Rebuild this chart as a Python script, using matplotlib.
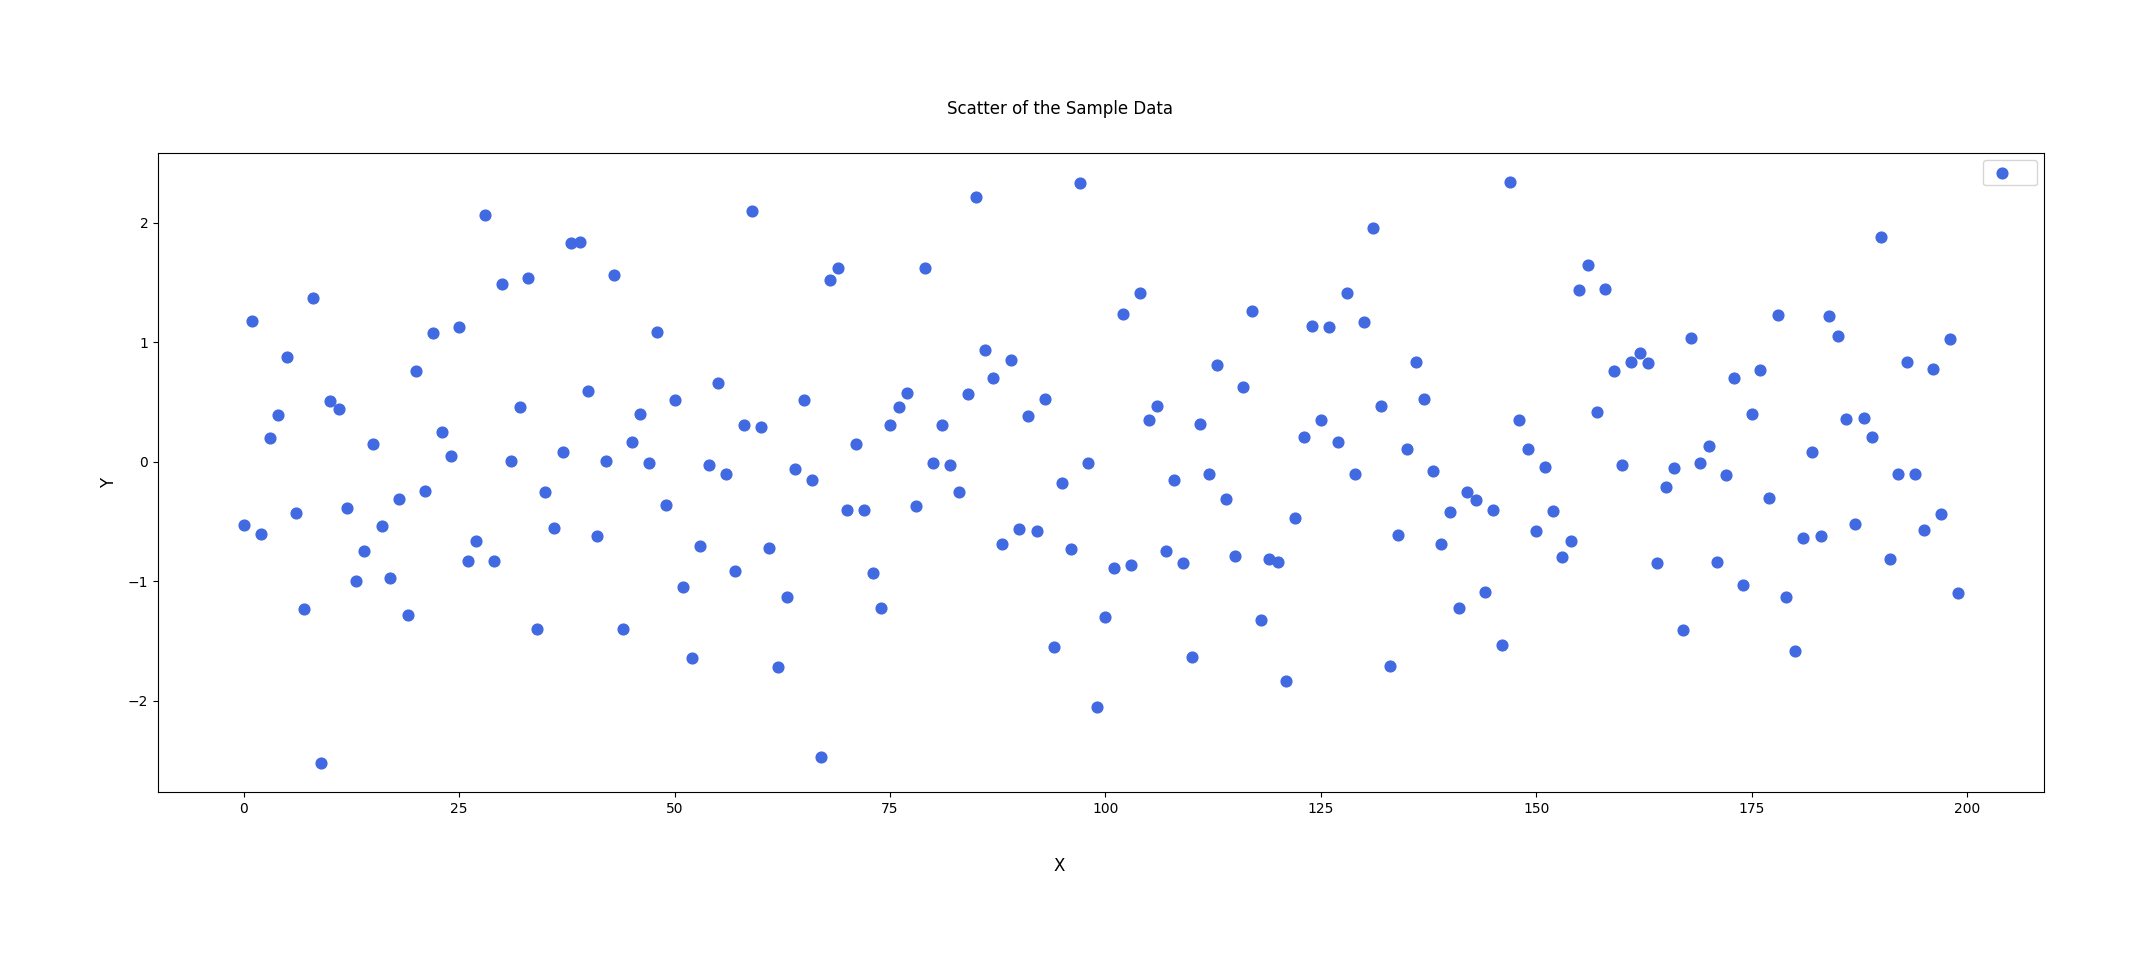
import numpy as np
import matplotlib
matplotlib.use('Agg')
import matplotlib.pyplot as plt

# Datos
x = np.arange(200)
y = [
    -0.53, 1.18, -0.60, 0.20, 0.39, 0.88, -0.43, -1.23, 1.37, -2.52,
    0.51, 0.44, -0.39, -1.00, -0.75, 0.15, -0.54, -0.97, -0.31, -1.28,
    0.76, -0.24, 1.08, 0.25, 0.05, 1.13, -0.83, -0.66, 2.07, -0.83,
    1.49, 0.01, 0.46, 1.54, -1.40, -0.25, -0.55, 0.08, 1.83, 1.84,
    0.59, -0.62, 0.01, 1.56, -1.40, 0.17, 0.40, -0.01, 1.09, -0.36,
    0.52, -1.05, -1.64, -0.70, -0.03, 0.66, -0.10, -0.91, 0.31, 2.10,
    0.29, -0.72, -1.72, -1.13, -0.06, 0.52, -0.15, -2.47, 1.52, 1.62,
    -0.40, 0.15, -0.40, -0.93, -1.22, 0.31, 0.46, 0.58, -0.37, 1.62,
    -0.01, 0.31, -0.03, -0.25, 0.57, 2.22, 0.94, 0.70, -0.69, 0.85,
    -0.56, 0.38, -0.58, 0.53, -1.55, -0.18, -0.73, 2.33, -0.01, -2.05,
    -1.30, -0.89, 1.24, -0.86, 1.41, 0.35, 0.47, -0.75, -0.15, -0.85,
    -1.63, 0.32, -0.10, 0.81, -0.31, -0.79, 0.63, 1.26, -1.32, -0.81,
    -0.84, -1.83, -0.47, 0.21, 1.14, 0.35, 1.13, 0.17, 1.41, -0.10,
    1.17, 1.96, 0.47, -1.71, -0.61, 0.11, 0.84, 0.53, -0.08, -0.69,
    -0.42, -1.22, -0.25, -0.32, -1.09, -0.40, -1.53, 2.34, 0.35, 0.11,
    -0.58, -0.04, -0.41, -0.80, -0.66, 1.44, 1.65, 0.42, 1.45, 0.76,
    -0.03, 0.84, 0.91, 0.83, -0.85, -0.21, -0.05, -1.41, 1.04, -0.01,
    0.13, -0.84, -0.11, 0.70, -1.03, 0.40, 0.77, -0.30, 1.23, -1.13,
    -1.58, -0.64, 0.08, -0.62, 1.22, 1.05, 0.36, -0.52, 0.37, 0.21,
    1.88, -0.81, -0.10, 0.84, -0.10, -0.57, 0.78, -0.44, 1.03, -1.10,
]

fig = plt.figure(figsize=(21.45, 9.76), dpi=100)
ax = fig.add_axes([0.0737, 0.1885, 0.8793, 0.6545])
ax.scatter(x, y, s=60, color='royalblue', label=' ')
ax.set_title('Scatter of the Sample Data', fontsize=12, pad=28, x=0.478)
ax.set_xlabel('X', fontsize=12, labelpad=30, x=0.478)
ax.set_ylabel('Y', fontsize=12, labelpad=7, y=0.484)
ax.legend(loc='upper right')

fig.savefig('out.png', dpi=100)
